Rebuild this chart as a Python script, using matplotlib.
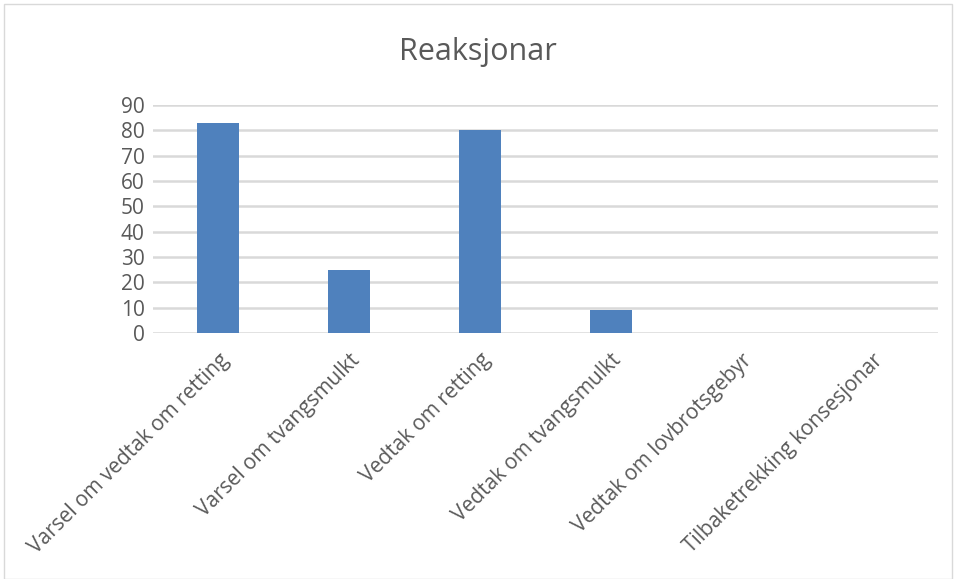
import matplotlib.pyplot as plt
from matplotlib.patches import Rectangle

categories = ["Varsel om vedtak om retting", "Varsel om tvangsmulkt", "Vedtak om retting",
              "Vedtak om tvangsmulkt", "Vedtak om lovbrotsgebyr", "Tilbaketrekking konsesjonar"]
values = [83, 25, 80, 9, 0, 0]

plt.rcParams['font.family'] = ['Open Sans', 'DejaVu Sans']
grey = '#595959'

fig = plt.figure(figsize=(9.56, 5.79), dpi=100)
ax = fig.add_axes([153/956, 1-333/579, (938-153)/956, (333-105)/579])

x = range(len(categories))
ax.bar(x, values, width=0.32, color='#4f81bd', zorder=3)
ax.set_xlim(-0.5, len(categories)-0.5)
ax.set_ylim(0, 90)
ax.set_yticks(range(0, 91, 10))
ax.yaxis.grid(True, color='#d9d9d9', linewidth=1.8, zorder=0)
ax.set_xticks(list(x))
ax.set_xticklabels(categories, rotation=45, ha='right', rotation_mode='anchor', fontsize=15)
ax.tick_params(axis='both', length=0, colors=grey)
ax.tick_params(axis='y', labelsize=15, pad=6)
ax.tick_params(axis='x', pad=12)
for s in ax.spines.values():
    s.set_visible(False)

fig.text(0.5, 1-52/579, "Reaksjonar", ha='center', va='center', fontsize=22, color=grey)
fig.patches.append(Rectangle((4/956, 0.5/579), 1-8/956, 1-4/579, transform=fig.transFigure,
                             fill=False, edgecolor='#d9d9d9', linewidth=1))

fig.savefig("out.png", dpi=100)
